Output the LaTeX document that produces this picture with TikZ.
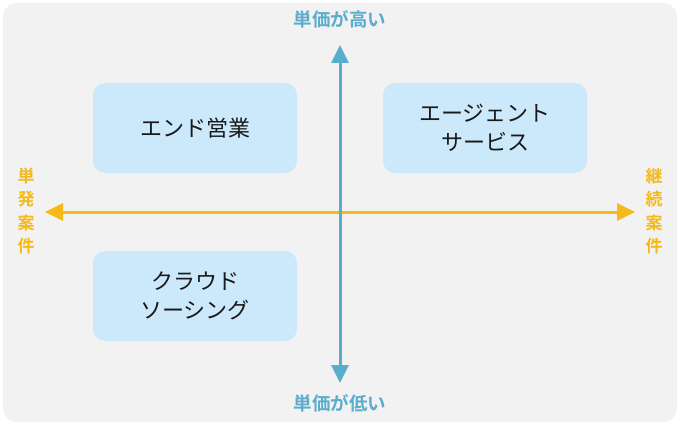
\documentclass[tikz,border=0pt]{standalone}
\usepackage{fontspec}
\newfontfamily\cjk{Noto Sans CJK JP}
\newfontfamily\cjkb{Noto Sans CJK JP Bold}
\usetikzlibrary{arrows.meta}
\definecolor{bgc}{HTML}{F2F2F2}
\definecolor{boxc}{HTML}{CCE9FB}
\definecolor{vblue}{HTML}{5AADCB}
\definecolor{horange}{HTML}{F5B918}
\tikzset{
  quad/.style={fill=boxc, rounded corners=12pt, minimum width=204pt, minimum height=90pt, align=center, font=\cjk\fontsize{22}{29}\selectfont, text=black!90},
  vlab/.style={text=vblue, font=\cjkb\fontsize{18.5}{20}\selectfont},
  hlab/.style={text=horange, font=\cjkb\fontsize{17}{23.5}\selectfont, align=center},
  varrow/.style={draw=vblue, line width=3pt, -{Triangle[length=18pt,width=17pt]}},
  harrow/.style={draw=horange, line width=3pt, -{Triangle[length=18pt,width=17pt]}}
}
\begin{document}
\begin{tikzpicture}[x=1pt,y=-1pt]
\useasboundingbox (0,0) rectangle (680,425);
\fill[bgc, rounded corners=14pt] (3,3) rectangle (677,422);
\node[quad] (end) at (195,128) {エンド営業};
\node[quad] (agent) at (485,128) {エージェント\\サービス};
\node[quad] (crowd) at (195,296) {クラウド\\ソーシング};
\coordinate (c) at (340,212);
\coordinate (top) at (340,45);
\coordinate (bot) at (340,383);
\coordinate (lft) at (45,212);
\coordinate (rgt) at (635,212);
\draw[harrow] (c) -- (lft);
\draw[harrow] (c) -- (rgt);
\draw[varrow] (c) -- (top);
\draw[varrow] (c) -- (bot);
\node[vlab] (hi) at (340,19) {単価が高い};
\node[vlab] (lo) at (340,403) {単価が低い};
\node[hlab] (single) at (26,211) {単\\発\\案\\件};
\node[hlab] (cont) at (654,211) {継\\続\\案\\件};
\end{tikzpicture}
\end{document}
